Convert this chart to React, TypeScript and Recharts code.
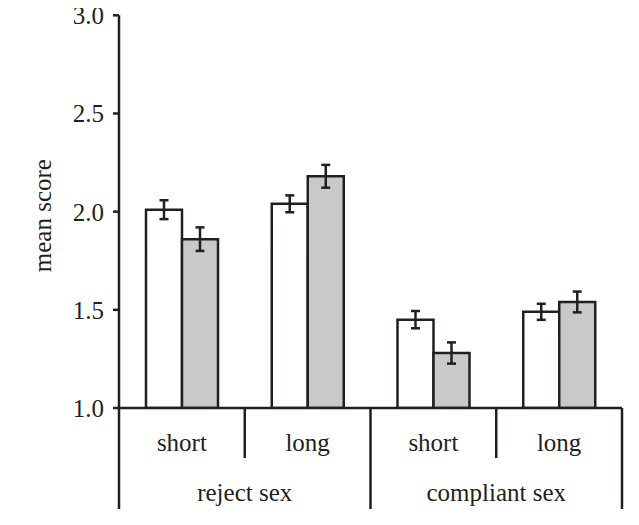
import { BarChart, Bar, XAxis, YAxis, ErrorBar } from 'recharts'

// bar groups along the x axis
const categories = ['short', 'long', 'short', 'long']
const groups = ['reject sex', 'compliant sex']

// mean scores and their error margins (white = first condition, grey = second)
const whiteMeans = [2.01, 2.04, 1.45, 1.49]
const whiteErrors = [0.048, 0.043, 0.044, 0.041]
const greyMeans = [1.86, 2.18, 1.28, 1.54]
const greyErrors = [0.06, 0.058, 0.054, 0.053]

const yTicks = [1.0, 1.5, 2.0, 2.5, 3.0]

const INK = '#231f20'
const GREY = '#c8c9cb'
const FONT = '"Liberation Serif", "Times New Roman", Times, serif'
const FONT_SIZE = 25

const CHART_W = 631
const CHART_H = 514
const MARGIN = { top: 15.3, right: 17, bottom: 0, left: 0 }
const Y_AXIS_W = 111
const X_AXIS_H = 106
const PLOT_W = CHART_W - MARGIN.left - MARGIN.right - Y_AXIS_W
const PLOT_H = CHART_H - MARGIN.top - MARGIN.bottom - X_AXIS_H

const data = categories.map((c, i) => ({
  key: `${groups[Math.floor(i / 2)]}-${c}`,
  label: c,
  group: groups[Math.floor(i / 2)],
  white: whiteMeans[i],
  whiteErr: whiteErrors[i],
  grey: greyMeans[i],
  greyErr: greyErrors[i],
}))

function CategoryTick(props: any) {
  const { x, y, index, width, visibleTicksCount } = props
  const band = width && visibleTicksCount ? width / visibleTicksCount : PLOT_W / categories.length
  const row = data[index]
  if (!row) return null
  const left = x - band / 2
  const right = x + band / 2
  const lineStyle = { stroke: INK, strokeWidth: 2.5 }
  return (
    <g>
      <text x={x} y={y + 43} textAnchor="middle" fontFamily={FONT} fontSize={FONT_SIZE} fill={INK}>
        {row.label}
      </text>
      {index === 0 && <line x1={left} y1={y} x2={left} y2={y + 101} {...lineStyle} />}
      {index % 2 === 0 && <line x1={right} y1={y} x2={right} y2={y + 50} {...lineStyle} />}
      {index % 2 === 1 && <line x1={right} y1={y} x2={right} y2={y + 101} {...lineStyle} />}
      {index % 2 === 0 && (
        <text x={right} y={y + 93} textAnchor="middle" fontFamily={FONT} fontSize={FONT_SIZE} fill={INK}>
          {row.group}
        </text>
      )}
    </g>
  )
}

function YLabel() {
  const cx = 43
  const cy = MARGIN.top + PLOT_H / 2 + 4
  return (
    <text
      x={cx}
      y={cy}
      transform={`rotate(-90, ${cx}, ${cy})`}
      textAnchor="middle"
      fontFamily={FONT}
      fontSize={FONT_SIZE}
      fill={INK}
    >
      mean score
    </text>
  )
}

export default function App() {
  return (
    <div style={{ marginTop: -8 }}>
      <BarChart width={CHART_W} height={CHART_H} data={data} margin={MARGIN} barSize={36} barGap={0}>
        <XAxis
          dataKey="key"
          interval={0}
          height={X_AXIS_H}
          tickLine={false}
          tickSize={0}
          tickMargin={0}
          axisLine={{ stroke: INK, strokeWidth: 2.5 }}
          tick={<CategoryTick />}
        />
        <YAxis
          type="number"
          domain={[1, 3]}
          ticks={yTicks}
          interval={0}
          allowDataOverflow
          width={Y_AXIS_W}
          tickSize={6}
          tickMargin={9}
          tickFormatter={(v: number) => v.toFixed(1)}
          axisLine={{ stroke: INK, strokeWidth: 2.5 }}
          tickLine={{ stroke: INK, strokeWidth: 2.5 }}
          tick={{ fill: INK, fontSize: FONT_SIZE, fontFamily: FONT }}
          label={() => <YLabel />}
        />
        <Bar dataKey="white" fill="#ffffff" stroke={INK} strokeWidth={2.5} isAnimationActive={false}>
          <ErrorBar dataKey="whiteErr" width={4.5} stroke={INK} strokeWidth={2.5} isAnimationActive={false} />
        </Bar>
        <Bar dataKey="grey" fill={GREY} stroke={INK} strokeWidth={2.5} isAnimationActive={false}>
          <ErrorBar dataKey="greyErr" width={4.5} stroke={INK} strokeWidth={2.5} isAnimationActive={false} />
        </Bar>
      </BarChart>
    </div>
  )
}
